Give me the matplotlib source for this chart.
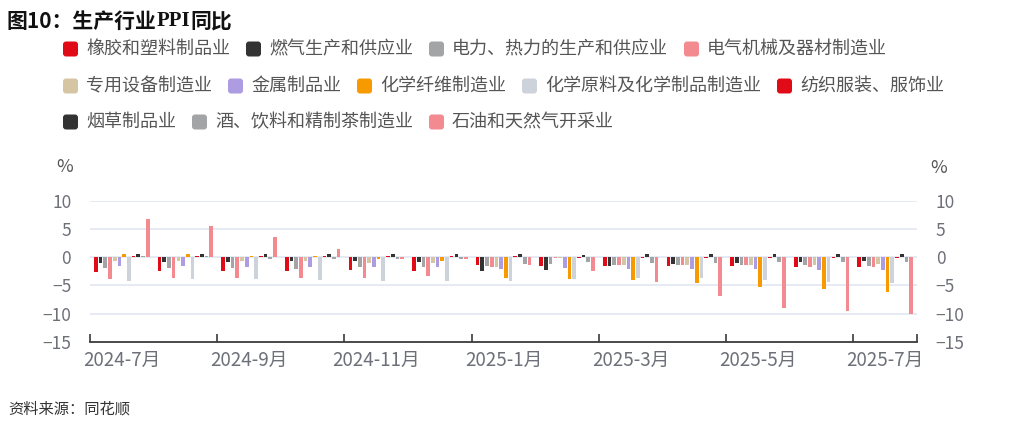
import matplotlib
matplotlib.use('Agg')
import matplotlib.pyplot as plt
from matplotlib.patches import FancyBboxPatch
import numpy as np

plt.rcParams['font.family'] = ['Noto Sans CJK SC', 'DejaVu Sans']

# data (%)
months = ['2024-7月', '2024-8月', '2024-9月', '2024-10月', '2024-11月', '2024-12月',
          '2025-1月', '2025-2月', '2025-3月', '2025-4月', '2025-5月', '2025-6月', '2025-7月']
names = ['橡胶和塑料制品业', '燃气生产和供应业', '电力、热力的生产和供应业', '电气机械及器材制造业',
         '专用设备制造业', '金属制品业', '化学纤维制造业', '化学原料及化学制品制造业',
         '纺织服装、服饰业', '烟草制品业', '酒、饮料和精制茶制造业', '石油和天然气开采业']
colors = ['#E10A17', '#333333', '#A3A4A6', '#F28A90', '#D6C5A2', '#AD9CE1',
          '#F79A00', '#CDD2DB', '#E10A17', '#333333', '#A3A4A6', '#F28A90']

rubber = [-2.6, -2.5, -2.5, -2.4, -2.3, -2.4, -1.4, -1.5, -1.5, -1.5, -1.6, -1.65, -1.75]
gas = [-1.0, -0.9, -0.8, -0.7, -0.7, -0.8, -2.5, -2.2, -1.5, -1.2, -1.0, -0.9, -0.7]
power = [-1.9, -1.9, -1.9, -2.0, -1.8, -1.8, -1.6, -1.2, -1.3, -1.35, -1.35, -1.4, -1.5]
electric = [-3.8, -3.7, -3.7, -3.6, -3.6, -3.4, -1.7, -0.1, -1.3, -1.35, -1.4, -1.65, -1.75]
special = [-0.7, -0.7, -0.6, -0.7, -1.0, -1.0, -1.7, -0.1, -1.3, -1.35, -1.35, -1.35, -1.2]
metal = [-1.6, -1.6, -1.7, -1.7, -1.8, -1.8, -2.0, -1.9, -2.1, -2.1, -2.1, -2.2, -2.2]
fiber = [0.5, 0.5, 0.2, 0.2, -0.3, -0.6, -3.6, -3.8, -4.0, -4.6, -5.2, -5.6, -6.1]
chemical = [-4.2, -3.9, -3.9, -4.1, -4.2, -4.2, -4.2, -3.8, -3.6, -3.6, -4.1, -4.3, -4.6]
textile = [0.3, 0.3, 0.2, 0.2, 0.2, 0.2, 0.2, -0.15, -0.1, -0.1, -0.1, -0.1, -0.1]
tobacco = [0.65, 0.6, 0.5, 0.5, 0.6, 0.6, 0.5, 0.4, 0.6, 0.5, 0.5, 0.5, 0.5]
drinks = [0.2, 0.2, -0.3, -0.3, -0.4, -0.4, -1.2, -0.9, -1.0, -1.0, -0.9, -0.8, -0.8]
oil = [6.8, 5.6, 3.5, 1.5, -0.25, -0.4, -1.4, -2.4, -4.4, -6.9, -8.9, -9.5, -10.1]

series = [rubber, gas, power, electric, special, metal, fiber, chemical,
          textile, tobacco, drinks, oil]

W, H = 1026, 426
fig = plt.figure(figsize=(W / 100, H / 100), dpi=100)
ax = fig.add_axes([90 / W, 1 - 342 / H, 827 / W, (342 - 200.7) / H])

x = np.arange(len(months))
slot = 0.074
for i, vals in enumerate(series):
    ax.bar(x + (i - 5.5) * slot, vals, width=0.058, color=colors[i], zorder=3)

ax.set_xlim(-0.5, len(months) - 0.5)
ax.set_ylim(-15, 10)
ax.set_yticks([-15, -10, -5, 0, 5, 10])
for v in [-10, -5, 0, 5, 10]:
    ax.axhline(v, color='#E0E6F1', lw=1.2, zorder=1)

for s in ['top', 'left', 'right']:
    ax.spines[s].set_visible(False)
ax.spines['bottom'].set_color('#3a3a3a')
ax.spines['bottom'].set_linewidth(1.3)

ax.set_xticks(list(np.arange(-0.5, len(months) - 1, 2)) + [len(months) - 0.5])
ax.set_xticklabels([])
ax.tick_params(axis='x', which='major', direction='in', length=6, width=1.2, color='#3a3a3a')
ax.set_xticks(x[::2], minor=True)
ax.set_xticklabels(months[::2], minor=True)
ax.tick_params(axis='x', which='minor', length=0, pad=6, labelsize=13.5, labelcolor='#6E7079')

ax.tick_params(axis='y', left=False, right=False, labelleft=True, labelright=True,
               labelsize=12.5, labelcolor='#6E7079', pad=10)

ax.text(-0.02, 1.24, '%', transform=ax.transAxes, ha='right', va='center', fontsize=13, color='#555555')
fig.text(930 / W, 1 - 168 / H, '%', ha='left', va='center', fontsize=13, color='#555555')

# title, with PPI in a serif face
fig.canvas.draw()
renderer = fig.canvas.get_renderer()
tr = fig.dpi_scale_trans
ty = (H - 21) / 100
xpos = 7 / 100
for part, fam in [('图10：生产行业', ['Noto Sans CJK SC', 'DejaVu Sans']),
                  ('PPI', ['Liberation Serif']),
                  ('同比', ['Noto Sans CJK SC'])]:
    t = fig.text(xpos, ty, part, transform=tr, ha='left', va='center',
                 fontsize=15, fontweight='bold', family=fam, color='#111111')
    xpos += t.get_window_extent(renderer=renderer).width / 100

# legend drawn as rows
rows = [[0, 1, 2, 3], [4, 5, 6, 7, 8], [9, 10, 11]]
row_y = [49, 86, 122]
for r, idxs in enumerate(rows):
    px = 63
    cy = (H - row_y[r]) / 100
    for i in idxs:
        box = FancyBboxPatch((px / 100, cy - 0.075), 0.15, 0.15,
                             boxstyle='round,pad=0,rounding_size=0.03',
                             transform=tr, facecolor=colors[i], edgecolor='none')
        fig.add_artist(box)
        t = fig.text((px + 23) / 100, cy, names[i], transform=tr, ha='left', va='center',
                     fontsize=13, color='#555555')
        px = px + 23 + t.get_window_extent(renderer=renderer).width + 16

fig.text(8 / W, 1 - 409 / H, '资料来源：同花顺', ha='left', va='center',
         fontsize=11, style='italic', color='#333333')

plt.savefig('out.png', dpi=100)
